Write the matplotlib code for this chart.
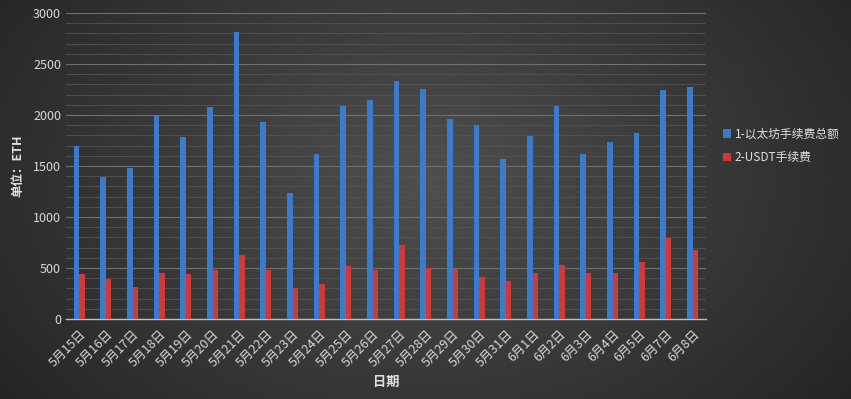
import numpy as np
import matplotlib.pyplot as plt
from matplotlib.ticker import MultipleLocator

plt.rcParams['font.family'] = ['Noto Sans CJK SC', 'DejaVu Sans']

dates = ['5月15日', '5月16日', '5月17日', '5月18日', '5月19日', '5月20日', '5月21日',
         '5月22日', '5月23日', '5月24日', '5月25日', '5月26日', '5月27日', '5月28日',
         '5月29日', '5月30日', '5月31日', '6月1日', '6月2日', '6月3日', '6月4日',
         '6月5日', '6月7日', '6月8日']
eth_total = [1700, 1390, 1485, 2000, 1785, 2075, 2810, 1935, 1235, 1620, 2085, 2150,
             2330, 2255, 1960, 1900, 1565, 1795, 2085, 1615, 1740, 1820, 2245, 2270]
usdt_fee = [445, 390, 315, 455, 440, 480, 630, 480, 305, 340, 515, 480,
            725, 500, 495, 415, 375, 450, 525, 455, 455, 555, 795, 675]
series_names = ['1-以太坊手续费总额', '2-USDT手续费']

fig = plt.figure(figsize=(8.51, 3.99), dpi=100)

# radial-ish dark gradient background
bg = fig.add_axes([0, 0, 1, 1], zorder=-10)
yy, xx = np.mgrid[0:1:200j, 0:1:400j]
d = np.sqrt(((xx - 0.5) / 0.6) ** 2 + ((yy - 0.45) / 0.9) ** 2)
shade = 0.31 - 0.16 * np.clip(d, 0, 1.2)
bg.imshow(np.dstack([shade] * 3), aspect='auto', extent=[0, 1, 0, 1])
bg.axis('off')

ax = fig.add_axes([66 / 851, 80 / 399, 640 / 851, 306 / 399])
ax.set_facecolor('none')

x = np.arange(len(dates))
w = 0.21
ax.bar(x - 0.11, eth_total, w, color='#3a7bcc', label=series_names[0], zorder=3)
ax.bar(x + 0.10, usdt_fee, w, color='#d23838', label=series_names[1], zorder=3)

ax.set_xlim(-0.5, len(dates) - 0.5)
ax.set_ylim(0, 3000)
ax.yaxis.set_major_locator(MultipleLocator(500))
ax.yaxis.set_minor_locator(MultipleLocator(100))
ax.grid(axis='y', which='major', color='#707070', linewidth=0.8, zorder=0)
ax.grid(axis='y', which='minor', color='#545454', linewidth=0.6, zorder=0)

for s in ['top', 'right', 'left']:
    ax.spines[s].set_visible(False)
ax.spines['bottom'].set_color('#bfbfbf')
ax.spines['bottom'].set_linewidth(1.0)

ax.set_xticks(x)
ax.set_xticklabels(dates, rotation=45, ha='right', rotation_mode='anchor')
ax.tick_params(axis='both', which='both', length=0, colors='#d9d9d9', labelsize=9)
ax.tick_params(axis='x', pad=6)

ax.set_ylabel('单位：ETH', color='#e0e0e0', fontsize=9, fontweight='bold', labelpad=6)
ax.set_xlabel('日期', color='#e0e0e0', fontsize=9.5, fontweight='bold', labelpad=4)

leg = ax.legend(loc='upper left', bbox_to_anchor=(1.01, 0.66), frameon=False,
                fontsize=8.5, handlelength=0.7, handleheight=0.7, handletextpad=0.3,
                labelspacing=0.9)
for t in leg.get_texts():
    t.set_color('#e0e0e0')

fig.savefig('out.png', dpi=100)
